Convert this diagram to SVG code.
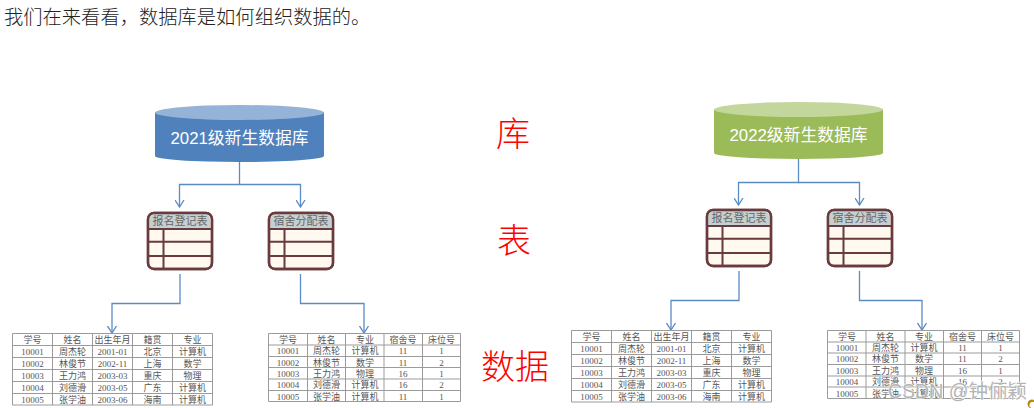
<svg xmlns="http://www.w3.org/2000/svg" width="1034" height="408" viewBox="0 0 1034 408">
<style>
text{font-family:"Liberation Sans","Noto Sans CJK SC",sans-serif}
.intro{font-size:19.3px;fill:#222;font-family:"Noto Sans CJK SC",serif;font-weight:300}
.lvl{font-size:34px;fill:#f00;text-anchor:middle;font-weight:300}
.dbt{font-size:16.8px;fill:#fff;text-anchor:middle}
.c{fill:none;stroke:#5b8bc4;stroke-width:1.3}
.ah{fill:none;stroke:#5b8bc4;stroke-width:1.3}
.ibody{fill:#fff9ef;stroke:#693a3e;stroke-width:2.4}
.ihead{fill:#c5d0d3}
.iline{fill:none;stroke:#693a3e;stroke-width:2}
.ilabel{font-size:11px;fill:#666;text-anchor:middle}
.grid{fill:#fff;stroke:#9b9b9b;stroke-width:1}
.t text{font-size:9px;fill:#555;text-anchor:middle;font-family:"Liberation Serif","Noto Sans CJK SC",serif}
.wm{font-size:19.500px;fill:#b4b4b4;stroke:#fff;stroke-width:1;paint-order:stroke}
</style>
<defs>
<marker id="vee" markerWidth="12" markerHeight="10" refX="5" refY="7.5" orient="0" markerUnits="userSpaceOnUse" viewBox="0 0 12 10"><path class="ah" d="M0.5 0.5L5 7.5L9.5 0.5"/></marker>
</defs>
<text class="intro" x="4" y="24">我们在来看看&#xFF0C;数据库是如何组织数据的。</text>
<g id="level-labels">
<text class="lvl" x="513" y="146">库</text>
<text class="lvl" x="514" y="253">表</text>
<text class="lvl" x="515" y="379">数据</text>
</g>
<g id="connectors">
<path class="c" d="M239.5 162V184.5H179.5V207" marker-end="url(#vee)"/>
<path class="c" d="M239.5 184.5H300.5V207" marker-end="url(#vee)"/>
<path class="c" d="M180 274V303.5H112V333" marker-end="url(#vee)"/>
<path class="c" d="M300.5 274V303.5H364V333" marker-end="url(#vee)"/>
<path class="c" d="M798.5 159V182.5H738.5V205" marker-end="url(#vee)"/>
<path class="c" d="M798.5 182.5H859.5V205" marker-end="url(#vee)"/>
<path class="c" d="M739 271V300.5H671V330" marker-end="url(#vee)"/>
<path class="c" d="M859.5 271V300.5H922V330" marker-end="url(#vee)"/>
</g>
<g id="db-2021">
<path fill="#4f81bd" d="M155 112.5V156A84.500 6 0 0 0 324 156V112.5Z"/>
<ellipse cx="239.500" cy="112.500" rx="84.500" ry="7.500" fill="#95b3d7"/>
<text class="dbt" x="239.500" y="144">2021级新生数据库</text>
</g>
<g id="db-2022">
<path fill="#9bbb59" d="M714 109.500V153A84.500 6 0 0 0 883 153V109.500Z"/>
<ellipse cx="798.500" cy="109.500" rx="84.500" ry="7.500" fill="#c3d69b"/>
<text class="dbt" x="798.500" y="141">2022级新生数据库</text>
</g>
<g id="icon-2021-a">
<rect class="ibody" x="148" y="213" width="64" height="56" rx="6"/>
<path class="ihead" d="M149.500 228V219a5 5 0 0 1 5-5H205a5 5 0 0 1 5 5V228Z"/>
<path class="iline" d="M148 229H212M148 241.700H212M148 256H212M163.500 229V269"/>
<rect x="148" y="213" width="64" height="56" rx="6" fill="none" stroke="#693a3e" stroke-width="2.400"/>
<text class="ilabel" x="180" y="225">报名登记表</text>
</g>
<g id="icon-2021-b">
<rect class="ibody" x="269" y="213" width="64" height="56" rx="6"/>
<path class="ihead" d="M270.500 228V219a5 5 0 0 1 5-5H326a5 5 0 0 1 5 5V228Z"/>
<path class="iline" d="M269 229H333M269 241.700H333M269 256H333M284.500 229V269"/>
<rect x="269" y="213" width="64" height="56" rx="6" fill="none" stroke="#693a3e" stroke-width="2.400"/>
<text class="ilabel" x="301" y="225">宿舍分配表</text>
</g>
<g id="icon-2022-a">
<rect class="ibody" x="707" y="210" width="64" height="56" rx="6"/>
<path class="ihead" d="M708.500 225V216a5 5 0 0 1 5-5H764a5 5 0 0 1 5 5V225Z"/>
<path class="iline" d="M707 226H771M707 238.700H771M707 253H771M722.500 226V266"/>
<rect x="707" y="210" width="64" height="56" rx="6" fill="none" stroke="#693a3e" stroke-width="2.400"/>
<text class="ilabel" x="739" y="222">报名登记表</text>
</g>
<g id="icon-2022-b">
<rect class="ibody" x="828" y="210" width="64" height="56" rx="6"/>
<path class="ihead" d="M829.500 225V216a5 5 0 0 1 5-5H885a5 5 0 0 1 5 5V225Z"/>
<path class="iline" d="M828 226H892M828 238.700H892M828 253H892M843.500 226V266"/>
<rect x="828" y="210" width="64" height="56" rx="6" fill="none" stroke="#693a3e" stroke-width="2.400"/>
<text class="ilabel" x="860" y="222">宿舍分配表</text>
</g>
<g id="table-2021-a" class="t">
<path class="grid" d="M12.500 333.500H212.500V405H12.500ZM12.500 345.500H212.500M12.500 357.500H212.500M12.500 369.500H212.500M12.500 381.500H212.500M12.500 393.500H212.500M52.500 333.500V405M92.500 333.500V405M132.500 333.500V405M172.500 333.500V405"/>
<text x="32.500" y="343">学号</text><text x="72.500" y="343">姓名</text><text x="112.500" y="343">出生年月</text><text x="152.500" y="343">籍贯</text><text x="192.500" y="343">专业</text>
<text x="32.500" y="355">10001</text><text x="72.500" y="355">周杰轮</text><text x="112.500" y="355">2001-01</text><text x="152.500" y="355">北京</text><text x="192.500" y="355">计算机</text>
<text x="32.500" y="367">10002</text><text x="72.500" y="367">林俊节</text><text x="112.500" y="367">2002-11</text><text x="152.500" y="367">上海</text><text x="192.500" y="367">数学</text>
<text x="32.500" y="379">10003</text><text x="72.500" y="379">王力鸿</text><text x="112.500" y="379">2003-03</text><text x="152.500" y="379">重庆</text><text x="192.500" y="379">物理</text>
<text x="32.500" y="391">10004</text><text x="72.500" y="391">刘德滑</text><text x="112.500" y="391">2003-05</text><text x="152.500" y="391">广东</text><text x="192.500" y="391">计算机</text>
<text x="32.500" y="403">10005</text><text x="72.500" y="403">张学油</text><text x="112.500" y="403">2003-06</text><text x="152.500" y="403">海南</text><text x="192.500" y="403">计算机</text>
</g>
<g id="table-2021-b" class="t">
<path class="grid" d="M268.500 333.500H460.500V401.500H268.500ZM268.500 345H460.500M268.500 356.500H460.500M268.500 367.500H460.500M268.500 379H460.500M268.500 390.500H460.500M307.500 333.500V401.500M345.500 333.500V401.500M384 333.500V401.500M422.500 333.500V401.500"/>
<text x="288" y="343">学号</text><text x="326.500" y="343">姓名</text><text x="365" y="343">专业</text><text x="403" y="343">宿舍号</text><text x="441.500" y="343">床位号</text>
<text x="288" y="354">10001</text><text x="326.500" y="354">周杰轮</text><text x="365" y="354">计算机</text><text x="403" y="354">11</text><text x="441.500" y="354">1</text>
<text x="288" y="365.500">10002</text><text x="326.500" y="365.500">林俊节</text><text x="365" y="365.500">数学</text><text x="403" y="365.500">11</text><text x="441.500" y="365.500">2</text>
<text x="288" y="377">10003</text><text x="326.500" y="377">王力鸿</text><text x="365" y="377">物理</text><text x="403" y="377">16</text><text x="441.500" y="377">1</text>
<text x="288" y="388">10004</text><text x="326.500" y="388">刘德滑</text><text x="365" y="388">计算机</text><text x="403" y="388">16</text><text x="441.500" y="388">2</text>
<text x="288" y="399.500">10005</text><text x="326.500" y="399.500">张学油</text><text x="365" y="399.500">计算机</text><text x="403" y="399.500">11</text><text x="441.500" y="399.500">1</text>
</g>
<g id="table-2022-a" class="t">
<path class="grid" d="M571.500 330.500H771.500V402H571.500ZM571.500 342.500H771.500M571.500 354.500H771.500M571.500 366.500H771.500M571.500 378.500H771.500M571.500 390.500H771.500M611.500 330.500V402M651.500 330.500V402M691.500 330.500V402M731.500 330.500V402"/>
<text x="591.500" y="340">学号</text><text x="631.500" y="340">姓名</text><text x="671.500" y="340">出生年月</text><text x="711.500" y="340">籍贯</text><text x="751.500" y="340">专业</text>
<text x="591.500" y="352">10001</text><text x="631.500" y="352">周杰轮</text><text x="671.500" y="352">2001-01</text><text x="711.500" y="352">北京</text><text x="751.500" y="352">计算机</text>
<text x="591.500" y="364">10002</text><text x="631.500" y="364">林俊节</text><text x="671.500" y="364">2002-11</text><text x="711.500" y="364">上海</text><text x="751.500" y="364">数学</text>
<text x="591.500" y="376">10003</text><text x="631.500" y="376">王力鸿</text><text x="671.500" y="376">2003-03</text><text x="711.500" y="376">重庆</text><text x="751.500" y="376">物理</text>
<text x="591.500" y="388">10004</text><text x="631.500" y="388">刘德滑</text><text x="671.500" y="388">2003-05</text><text x="711.500" y="388">广东</text><text x="751.500" y="388">计算机</text>
<text x="591.500" y="400">10005</text><text x="631.500" y="400">张学油</text><text x="671.500" y="400">2003-06</text><text x="711.500" y="400">海南</text><text x="751.500" y="400">计算机</text>
</g>
<g id="table-2022-b" class="t">
<path class="grid" d="M827.500 330.500H1019.500V398.500H827.500ZM827.500 342H1019.500M827.500 353H1019.500M827.500 364.500H1019.500M827.500 376H1019.500M827.500 387H1019.500M866 330.500V398.500M905 330.500V398.500M943.500 330.500V398.500M981.500 330.500V398.500"/>
<text x="847" y="340">学号</text><text x="885.500" y="340">姓名</text><text x="924" y="340">专业</text><text x="962.500" y="340">宿舍号</text><text x="1000.500" y="340">床位号</text>
<text x="847" y="351">10001</text><text x="885.500" y="351">周杰轮</text><text x="924" y="351">计算机</text><text x="962.500" y="351">11</text><text x="1000.500" y="351">1</text>
<text x="847" y="362">10002</text><text x="885.500" y="362">林俊节</text><text x="924" y="362">数学</text><text x="962.500" y="362">11</text><text x="1000.500" y="362">2</text>
<text x="847" y="373.500">10003</text><text x="885.500" y="373.500">王力鸿</text><text x="924" y="373.500">物理</text><text x="962.500" y="373.500">16</text><text x="1000.500" y="373.500">1</text>
<text x="847" y="385">10004</text><text x="885.500" y="385">刘德滑</text><text x="924" y="385">计算机</text><text x="962.500" y="385">16</text><text x="1000.500" y="385">2</text>
<text x="847" y="396.500">10005</text><text x="885.500" y="396.500">张学油</text><text x="924" y="396.500">计算机</text><text x="962.500" y="396.500">11</text><text x="1000.500" y="396.500">1</text>
</g>
<text class="wm" x="888" y="398">CSDN @钟俪颖</text>
<path d="M1034 400a4 4 0 0 0-4 8h1.500a3 3 0 0 1 2.500-6Z" fill="#b8860b"/>
</svg>
